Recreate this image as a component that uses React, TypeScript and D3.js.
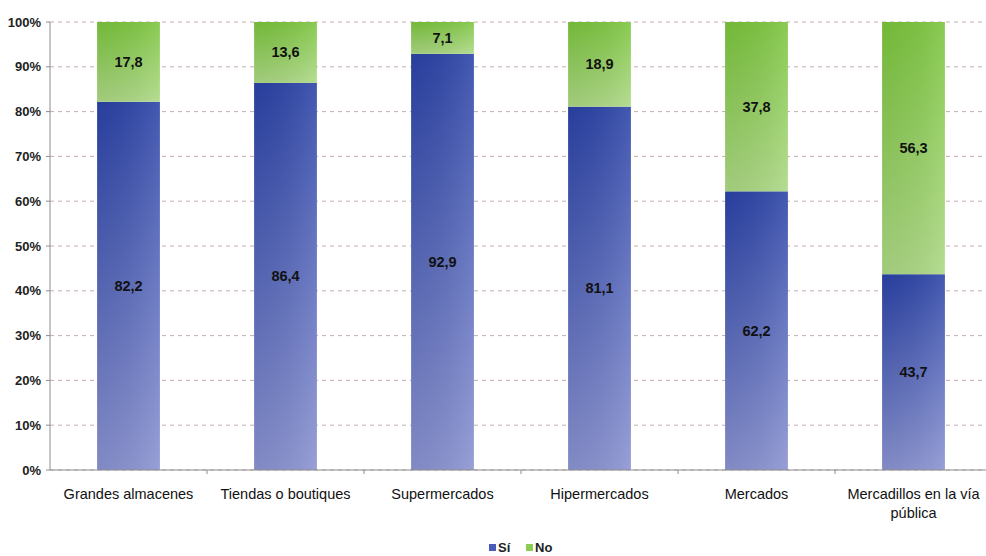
import React from "react";
import * as d3 from "d3";

const categories = [
  "Grandes almacenes",
  "Tiendas o boutiques",
  "Supermercados",
  "Hipermercados",
  "Mercados",
  "Mercadillos en la vía pública",
];
const siValues = [82.2, 86.4, 92.9, 81.1, 62.2, 43.7];
const noValues = [17.8, 13.6, 7.1, 18.9, 37.8, 56.3];
const yTicks = [0, 10, 20, 30, 40, 50, 60, 70, 80, 90, 100];
const seriesNames = ["Sí", "No"];

const W = 986;
const H = 556;
const left = 50;
const right = 992;
const top = 22;
const bottom = 470;

const fmt = (v: number) => v.toFixed(1).replace(".", ",");

function wrapLabel(label: string): string[] {
  if (label === "Mercadillos en la vía pública") return ["Mercadillos en la vía", "pública"];
  return [label];
}

export default function App() {
  const x = d3.scaleBand<string>().domain(categories).range([left, right]).paddingInner(0.6).paddingOuter(0.3);
  const y = d3.scaleLinear().domain([0, 100]).range([bottom, top]);
  const step = x.step();
  const bw = x.bandwidth();
  const font = "'Liberation Sans', Arial, sans-serif";

  return (
    <svg width={W} height={H} style={{ position: "absolute", left: 0, top: 0, background: "#fff" }}>
      <defs>
        <linearGradient id="gBlue" x1="0" y1="0" x2="0" y2="1">
          <stop offset="0" stopColor="#2a42a6" />
          <stop offset="1" stopColor="#8a93d1" />
        </linearGradient>
        <linearGradient id="gGreen" x1="0" y1="0" x2="0" y2="1">
          <stop offset="0" stopColor="#7ac43c" />
          <stop offset="1" stopColor="#acd884" />
        </linearGradient>
        <linearGradient id="gShade" x1="0" y1="0" x2="1" y2="0">
          <stop offset="0" stopColor="#000" stopOpacity="0.06" />
          <stop offset="1" stopColor="#fff" stopOpacity="0.12" />
        </linearGradient>
      </defs>

      {/* gridlines */}
      {yTicks.map((t) => (
        <line key={"g" + t} x1={left} x2={W} y1={y(t)} y2={y(t)} stroke="#c2aeae" strokeDasharray="4,4" strokeWidth={1} />
      ))}

      {/* bars */}
      {categories.map((c, i) => {
        const x0 = x(c)!;
        const ySi = y(siValues[i]);
        const yTop = y(siValues[i] + noValues[i]);
        return (
          <g key={c}>
            <rect x={x0} y={ySi} width={bw} height={bottom - ySi} fill="url(#gBlue)" />
            <rect x={x0} y={ySi} width={bw} height={bottom - ySi} fill="url(#gShade)" />
            <rect x={x0} y={yTop} width={bw} height={ySi - yTop} fill="url(#gGreen)" />
            <rect x={x0} y={yTop} width={bw} height={ySi - yTop} fill="url(#gShade)" />
            <text x={x0 + bw / 2} y={(ySi + bottom) / 2 + 5} textAnchor="middle" fontFamily={font} fontWeight="bold" fontSize={14.5} fill="#111">
              {fmt(siValues[i])}
            </text>
            <text x={x0 + bw / 2} y={(ySi + yTop) / 2 + 5} textAnchor="middle" fontFamily={font} fontWeight="bold" fontSize={14.5} fill="#111">
              {fmt(noValues[i])}
            </text>
          </g>
        );
      })}

      {/* axes */}
      <line x1={left} x2={left} y1={top} y2={bottom} stroke="#8c8c8c" />
      <line x1={left} x2={W} y1={bottom} y2={bottom} stroke="#8c8c8c" />
      {yTicks.map((t) => (
        <g key={"t" + t}>
          <line x1={left - 4} x2={left} y1={y(t)} y2={y(t)} stroke="#8c8c8c" />
          <text x={41} y={y(t) + 4.5} textAnchor="end" fontFamily={font} fontWeight="bold" fontSize={13} fill="#222">
            {t + "%"}
          </text>
        </g>
      ))}
      {categories.map((c, i) => (
        <line key={"xt" + i} x1={left + step * (i + 1)} x2={left + step * (i + 1)} y1={bottom} y2={bottom + 4} stroke="#8c8c8c" />
      ))}
      {categories.map((c) => {
        const lines = wrapLabel(c);
        return (
          <text key={"xl" + c} textAnchor="middle" fontFamily={font} fontSize={14.5} fill="#111">
            {lines.map((l, j) => (
              <tspan key={j} x={x(c)! + bw / 2} y={499 + j * 19}>
                {l}
              </tspan>
            ))}
          </text>
        );
      })}

      {/* legend */}
      <g fontFamily={font} fontWeight="bold" fontSize={13} fill="#222">
        <rect x={489} y={544} width={7} height={7} fill="#4a5cb8" />
        <text x={498} y={552}>{seriesNames[0]}</text>
        <rect x={526} y={544} width={7} height={7} fill="#8ccc55" />
        <text x={535} y={552}>{seriesNames[1]}</text>
      </g>
    </svg>
  );
}
